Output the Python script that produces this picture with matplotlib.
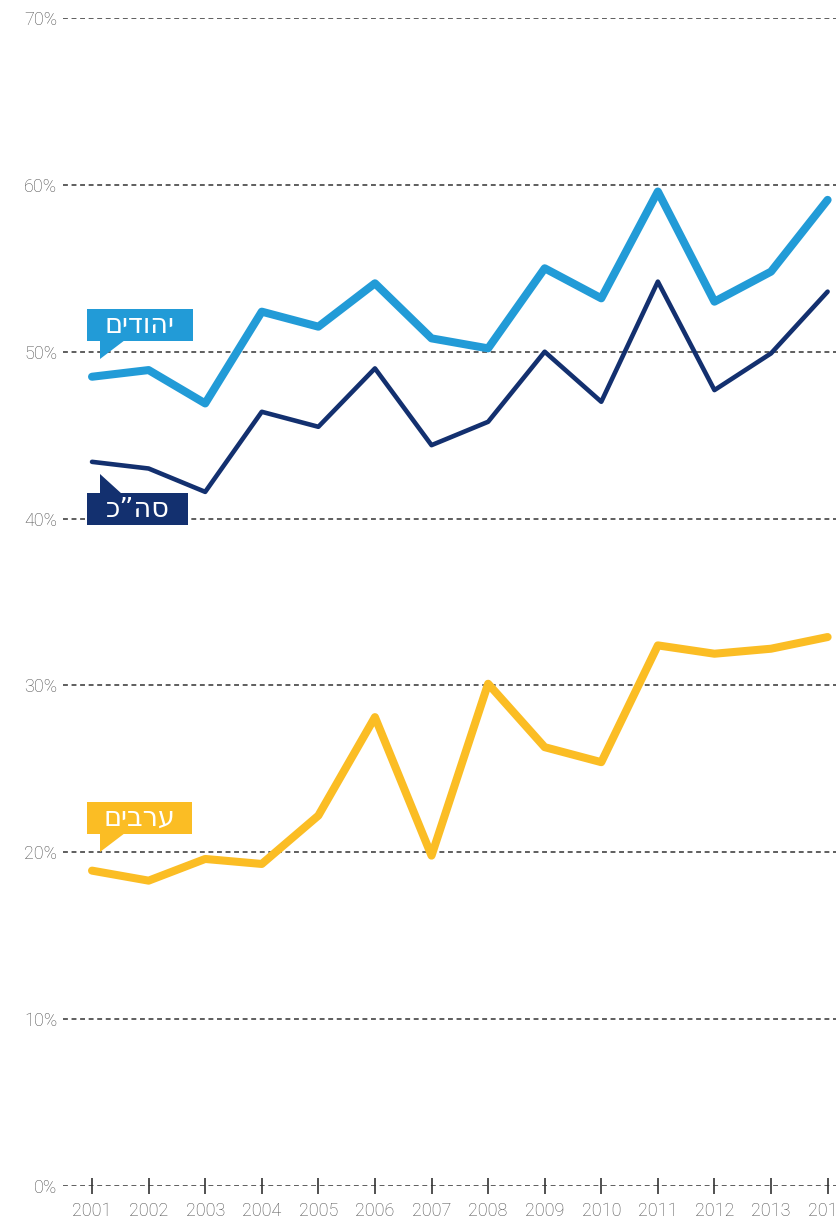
import matplotlib
matplotlib.use('Agg')
import matplotlib.pyplot as plt
import matplotlib.ticker as mticker
from matplotlib.patches import Polygon

# ----------------------------
# Data
# ----------------------------
years = [2001, 2002, 2003, 2004, 2005, 2006, 2007,
         2008, 2009, 2010, 2011, 2012, 2013, 2014]
jews  = [48.5, 48.9, 46.9, 52.4, 51.5, 54.1, 50.8,
         50.2, 55.0, 53.2, 59.6, 53.0, 54.8, 59.1]
total = [43.4, 43.0, 41.6, 46.4, 45.5, 49.0, 44.4,
         45.8, 50.0, 47.0, 54.2, 47.7, 49.9, 53.6]
arabs = [18.9, 18.3, 19.6, 19.3, 22.2, 28.1, 19.8,
         30.1, 26.3, 25.4, 32.4, 31.9, 32.2, 32.9]
y_ticks = [0, 10, 20, 30, 40, 50, 60, 70]

# hebrew labels (visual order, matplotlib has no bidi)
lbl_jews = "יהודים"[::-1]
lbl_total = "סה”כ"[::-1]
lbl_arabs = "ערבים"[::-1]

c_jews = '#229BD7'
c_total = '#13306F'
c_arabs = '#FBBD24'
c_tick = '#4d4d4d'
tick_font = ['Roboto', 'DejaVu Sans']

W, H = 837, 1218
fig = plt.figure(figsize=(W / 100, H / 100), dpi=100)
ax = fig.add_axes([63 / W, 1 - 1186 / H, (W - 63) / W, (1186 - 18) / H])

def px(x, y):
    # reference pixel -> figure fraction
    return (x / W, 1 - y / H)

# grid lines
for v in y_ticks:
    ax.axhline(v, color='#333333', lw=1.1, ls=(0, (3.2, 2.4)), zorder=1)

ax.plot(years, arabs, color=c_arabs, lw=5.8, solid_capstyle='round',
        solid_joinstyle='round', zorder=4)
ax.plot(years, jews, color=c_jews, lw=5.8, solid_capstyle='round',
        solid_joinstyle='round', zorder=4)
ax.plot(years, total, color=c_total, lw=3.3, solid_capstyle='round',
        solid_joinstyle='round', zorder=5)

ax.set_xlim(2000.487, 2014.166)
ax.set_ylim(0, 70)
for s in ax.spines.values():
    s.set_visible(False)

ax.set_yticks(y_ticks)
ax.yaxis.set_major_formatter(mticker.FuncFormatter(lambda v, _: f"{int(v)}%"))
ax.tick_params(axis='y', length=0, pad=4, labelsize=13, labelcolor=c_tick)

ax.set_xticks(years)
ax.set_xticklabels([str(y) for y in years])
ax.tick_params(axis='x', direction='inout', length=11.5, width=1.2,
               color='#333333', pad=6, labelsize=13, labelcolor=c_tick)
for t in ax.get_xticklabels() + ax.get_yticklabels():
    t.set_family(tick_font)
    t.set_fontweight('light')

# ----------------------------
# Speech-bubble labels
# ----------------------------
def bubble(x0, y0, x1, y1, tri, color, text):
    box = Polygon([px(x0, y0), px(x1, y0), px(x1, y1), px(x0, y1)],
                  closed=True, transform=fig.transFigure, facecolor=color,
                  edgecolor='none', zorder=3)
    fig.patches.append(box)
    t = Polygon([px(*p) for p in tri], closed=True, transform=fig.transFigure,
                facecolor=color, edgecolor='none', zorder=3)
    fig.patches.append(t)
    cx, cy = px((x0 + x1) / 2, (y0 + y1) / 2 + 1)
    fig.text(cx, cy, text, color='white', fontsize=19.5, ha='center', va='center',
             family=['DejaVu Sans'], zorder=6)

bubble(87, 309, 193, 341, [(100, 340), (125, 340), (100, 359)], c_jews, lbl_jews)
bubble(87, 493, 188, 525, [(100, 494), (122, 494), (100, 474)], c_total, lbl_total)
bubble(87, 802, 192, 834, [(100, 833), (125, 833), (100, 852)], c_arabs, lbl_arabs)

fig.savefig('out.png', dpi=100)
